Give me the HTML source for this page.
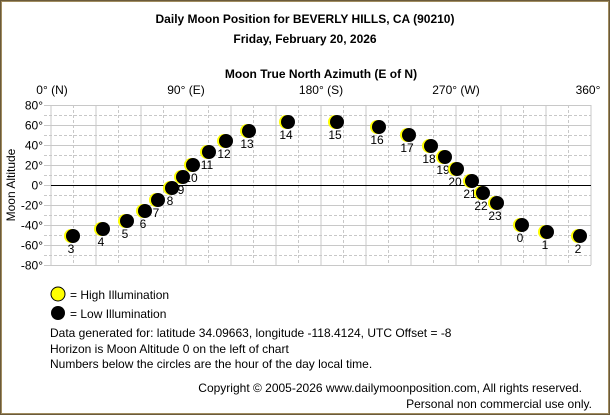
<!DOCTYPE html>
<html><head><style>
body{margin:0;background:#fff}
svg text{font-family:"Liberation Sans",Arial,sans-serif;font-size:12px;fill:#000}
</style></head><body>
<svg width="610" height="415" xmlns="http://www.w3.org/2000/svg">
<rect x="0.5" y="0.5" width="609" height="414" fill="#fff" stroke="#6b5a3a" stroke-width="1"/>
<rect x="1.5" y="1.5" width="607" height="412" fill="none" stroke="#a08c60" stroke-width="1"/>
<text x="305" y="23" text-anchor="middle" font-weight="bold">Daily Moon Position for BEVERLY HILLS, CA (90210)</text>
<text x="305" y="43" text-anchor="middle" font-weight="bold">Friday, February 20, 2026</text>
<text x="321" y="78" text-anchor="middle" font-weight="bold">Moon True North Azimuth (E of N)</text>
<g text-anchor="middle">
<text x="52" y="94">0° (N)</text><text x="186" y="94">90° (E)</text><text x="321" y="94">180° (S)</text><text x="456" y="94">270° (W)</text><text x="588" y="94">360°</text>
</g>
<g stroke="#c8c8c8" stroke-width="1" id="grid"></g>
<g text-anchor="end" id="yl"></g>
<line x1="51" y1="185.5" x2="591" y2="185.5" stroke="#000" stroke-width="1"/>
<text transform="translate(15,185) rotate(-90)" text-anchor="middle">Moon Altitude</text>
<g id="moons"></g>
<circle cx="58" cy="294" r="7" fill="#ff0" stroke="#000" stroke-width="1"/>
<text x="70" y="299">= High Illumination</text>
<circle cx="58" cy="313" r="7" fill="#000"/>
<text x="70" y="318">= Low Illumination</text>
<text x="50" y="337">Data generated for: latitude 34.09663, longitude -118.4124, UTC Offset = -8</text>
<text x="50" y="353">Horizon is Moon Altitude 0 on the left of chart</text>
<text x="50" y="368">Numbers below the circles are the hour of the day local time.</text>
<text x="582" y="392" text-anchor="end">Copyright © 2005-2026 www.dailymoonposition.com, All rights reserved.</text>
<text x="592" y="408" text-anchor="end">Personal non commercial use only.</text>
<script>
var ns="http://www.w3.org/2000/svg",g=document.getElementById('grid'),yl=document.getElementById('yl'),m=document.getElementById('moons');
function el(p,t,a){var e=document.createElementNS(ns,t);for(var k in a)e.setAttribute(k,a[k]);p.appendChild(e);return e;}
for(var i=0;i<=24;i++){var x=51+i*22.5;el(g,'line',{x1:x,y1:105,x2:x,y2:265,'stroke-dasharray':i%2?'3,2':''});}
for(var j=0;j<=16;j++){var y=105+j*10+0.5;el(g,'line',{x1:44,y1:y,x2:591,y2:y,'stroke-dasharray':j%2?'3,2':''});
if(j%2==0){var t=el(yl,'text',{x:43,y:y+4});t.textContent=(80-j*10)+'°';}}
var d=[[3,72,236],[4,102,229],[5,126,221],[6,144,211],[7,157,200],[8,171,188],[9,182,177],[10,192,165],[11,208,152],[12,225,141],[13,248,131],[14,287,122],[15,336,122],[16,378,127],[17,408,135],[18,430,146],[19,444,157],[20,456,169],[21,471,181],[22,482,193],[23,496,203],[0,521,225],[1,546,232],[2,579,236]];
d.forEach(function(p){el(m,'circle',{cx:p[1]-1,cy:p[2],r:7,fill:'#ff0'});el(m,'circle',{cx:p[1]+1,cy:p[2],r:7,fill:'#000'});
var t=el(m,'text',{x:p[1]-1,y:p[2]+17,'text-anchor':'middle'});t.textContent=p[0];});
</script>
</svg>
</body></html>
